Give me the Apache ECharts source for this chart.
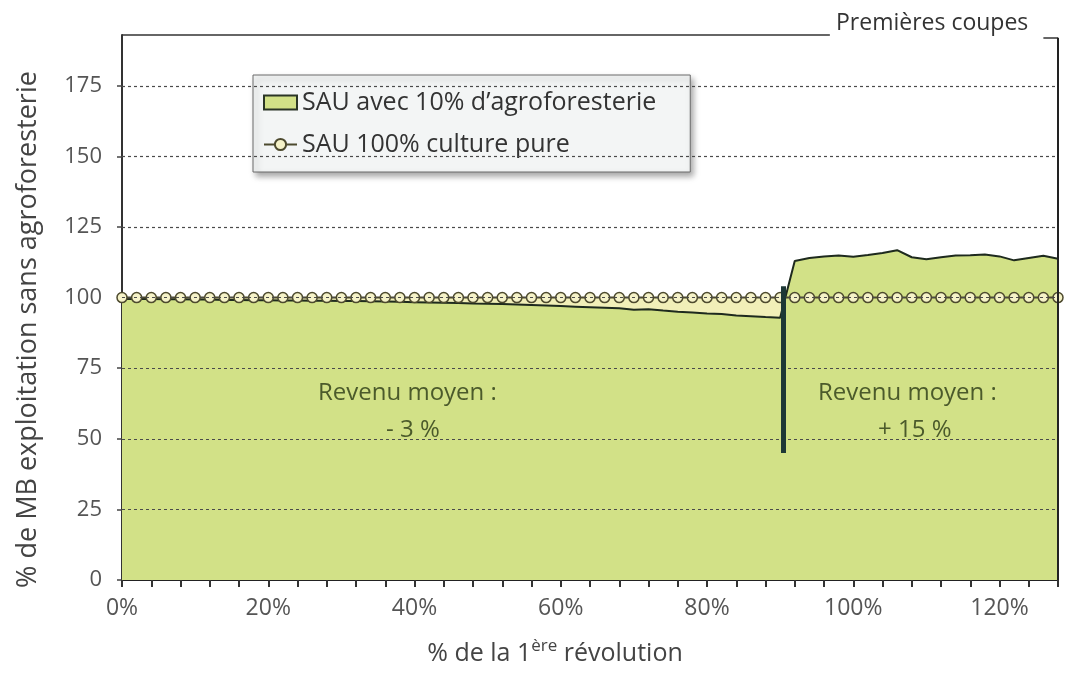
<!DOCTYPE html>
<html>
<head>
<meta charset="utf-8">
<title>Revenu agroforesterie</title>
<script src="https://cdn.jsdelivr.net/npm/echarts@6/dist/echarts.min.js"></script>
<style>
  html, body { margin: 0; padding: 0; background: #fff; }
  #main { width: 1069px; height: 679px; }
</style>
</head>
<body>
<div id="main"></div>
<script>
// % de la 1ère révolution (un point tous les 2 %)
const revolution = [0, 2, 4, 6, 8, 10, 12, 14, 16, 18, 20, 22, 24, 26, 28, 30, 32, 34, 36, 38,
  40, 42, 44, 46, 48, 50, 52, 54, 56, 58, 60, 62, 64, 66, 68, 70, 72, 74, 76, 78,
  80, 82, 84, 86, 88, 90, 92, 94, 96, 98, 100, 102, 104, 106, 108, 110, 112, 114, 116, 118,
  120, 122, 124, 126, 128]

// SAU 100% culture pure
const pureCrop = [100, 100, 100, 100, 100, 100, 100, 100, 100, 100, 100, 100, 100, 100, 100, 100, 100, 100, 100, 100,
  100, 100, 100, 100, 100, 100, 100, 100, 100, 100, 100, 100, 100, 100, 100, 100, 100, 100, 100, 100,
  100, 100, 100, 100, 100, 100, 100, 100, 100, 100, 100, 100, 100, 100, 100, 100, 100, 100, 100, 100,
  100, 100, 100, 100, 100]

// SAU avec 10% d'agroforesterie
const agroforestry = [99.5, 99.5, 99.5, 99.4, 99.4, 99.3, 99.3, 99.2, 99.2, 99.1, 99.1, 99.0, 99.0, 98.9, 98.9, 98.8, 98.8, 98.7, 98.6, 98.5,
  98.4, 98.3, 98.2, 98.1, 97.9, 97.8, 97.7, 97.6, 97.4, 97.2, 97.0, 96.8, 96.6, 96.4, 96.2, 95.7, 95.9, 95.4, 95.0, 94.7,
  94.4, 94.2, 93.7, 93.4, 93.1, 92.9, 113.0, 114.0, 114.6, 114.9, 114.5, 115.1, 115.8, 116.8, 114.3, 113.6, 114.3, 114.9, 115.0, 115.3,
  114.6, 113.2, 114.0, 114.8, 113.8]

const yTicks = [0, 25, 50, 75, 100, 125, 150, 175]
const xTicks = [0, 4, 8, 12, 16, 20, 24, 28, 32, 36, 40, 44, 48, 52, 56, 60, 64, 68, 72, 76,
  80, 84, 88, 92, 96, 100, 104, 108, 112, 116, 120, 124, 128]
const xLabels = [0, 20, 40, 60, 80, 100, 120]

// premières coupes
const firstCut = 90.4
const firstCutBar = [45, 104]

const yMax = 193
const xMax = 128
const font = 'Open Sans'

const chart = echarts.init(document.getElementById('main'))

const pairs = (ys) => revolution.map((x, i) => [x, ys[i]])

// grille pointillée dessinée par-dessus la surface verte
const gridLines = yTicks.filter(v => v > 0).map(v => ({
  yAxis: v,
  lineStyle: { color: '#4a4a4a', width: 1.2, type: [3, 3] }
}))

const option = {
  animation: false,
  grid: { left: 122, right: 11, top: 35, bottom: 99 },
  legend: {
    left: 253,
    top: 75,
    orient: 'vertical',
    padding: [15, 34, 15, 10],
    itemGap: 17,
    itemWidth: 33,
    itemHeight: 14,
    backgroundColor: '#f3f5f5',
    borderColor: '#6b6b6b',
    borderWidth: 1,
    shadowBlur: 6,
    shadowColor: 'rgba(0,0,0,0.35)',
    shadowOffsetX: 3,
    shadowOffsetY: 4,
    textStyle: { fontFamily: font, fontSize: 25, color: '#333' },
    data: [
      { name: 'SAU avec 10% d’agroforesterie', icon: 'rect',
        itemStyle: { color: '#d2e187', borderColor: '#2a3526', borderWidth: 2 } },
      { name: 'SAU 100% culture pure' }
    ]
  },
  xAxis: {
    type: 'value',
    min: 0,
    max: xMax,
    name: '% de la 1{sup|ère} révolution',
    nameLocation: 'middle',
    nameGap: 58,
    nameTextStyle: {
      fontFamily: font, fontSize: 25, color: '#444', padding: [0, 70, 0, 0],
      rich: { sup: { fontFamily: font, fontSize: 17, color: '#444', verticalAlign: 'top', lineHeight: 32 } }
    },
    axisLine: { lineStyle: { color: '#222', width: 2 } },
    axisTick: { customValues: xTicks, length: 7, lineStyle: { color: '#333', width: 2 } },
    axisLabel: {
      customValues: xLabels,
      formatter: v => v + '%',
      margin: 17,
      fontFamily: font, fontSize: 23, color: '#555'
    },
    splitLine: { show: false }
  },
  yAxis: {
    type: 'value',
    min: 0,
    max: yMax,
    name: '% de MB exploitation sans agroforesterie',
    nameLocation: 'middle',
    nameGap: 80,
    nameTextStyle: { fontFamily: font, fontSize: 27, color: '#444', padding: [0, 44, 0, 0] },
    axisLine: { show: true, lineStyle: { color: '#333', width: 2 } },
    axisTick: { show: true, customValues: yTicks, length: 5, lineStyle: { color: '#444', width: 1.5 } },
    axisLabel: { customValues: yTicks, margin: 20, fontFamily: font, fontSize: 22, color: '#555' },
    splitLine: { show: false }
  },
  series: [
    {
      // perte par rapport à la culture pure (zone jaune pâle)
      name: 'perte',
      type: 'line',
      data: pairs(pureCrop),
      symbol: 'none',
      lineStyle: { width: 0 },
      areaStyle: { color: '#f1efb8', opacity: 1 },
      z: 1,
      silent: true
    },
    {
      name: 'SAU avec 10% d’agroforesterie',
      type: 'line',
      data: pairs(agroforestry),
      symbol: 'none',
      itemStyle: { color: '#d2e187' },
      lineStyle: { color: '#1e2a1e', width: 2 },
      areaStyle: { color: '#d2e187', opacity: 1 },
      z: 2,
      markLine: {
        silent: true,
        symbol: ['none', 'none'],
        label: { show: false },
        data: gridLines.concat([
          [
            { coord: [firstCut, firstCutBar[0]], lineStyle: { color: '#1d3836', width: 5, type: 'solid' } },
            { coord: [firstCut, firstCutBar[1]] }
          ],
          [
            { coord: [0, yMax], lineStyle: { color: '#333', width: 1.5, type: 'solid' } },
            { coord: [96.8, yMax] }
          ],
          [
            { coord: [126, yMax - 1], lineStyle: { color: '#333', width: 1.5, type: 'solid' } },
            { coord: [xMax, yMax - 1] }
          ],
          [
            { coord: [xMax, yMax - 1], lineStyle: { color: '#222', width: 2, type: 'solid' } },
            { coord: [xMax, 0] }
          ]
        ])
      }
    },
    {
      name: 'SAU 100% culture pure',
      type: 'line',
      data: pairs(pureCrop),
      symbol: 'circle',
      symbolSize: 10,
      itemStyle: { color: '#f5f2c8', borderColor: '#4d4a2e', borderWidth: 1.5 },
      lineStyle: { color: '#4d4a2e', width: 2 },
      z: 3
    }
  ],
  graphic: [
    { type: 'text', left: 836, top: 12, z: 10,
      style: { text: 'Premières coupes', fontFamily: font, fontSize: 23, fill: '#333' } },
    { type: 'text', left: 318, top: 381, z: 10,
      style: { text: 'Revenu moyen :', fontFamily: font, fontSize: 24, fill: '#4b5a2b' } },
    { type: 'text', left: 386, top: 418, z: 10,
      style: { text: '- 3 %', fontFamily: font, fontSize: 24, fill: '#4b5a2b' } },
    { type: 'text', left: 818, top: 381, z: 10,
      style: { text: 'Revenu moyen :', fontFamily: font, fontSize: 24, fill: '#4b5a2b' } },
    { type: 'text', left: 878, top: 418, z: 10,
      style: { text: '+ 15 %', fontFamily: font, fontSize: 24, fill: '#4b5a2b' } }
  ]
}

chart.setOption(option)
</script>
</body>
</html>
